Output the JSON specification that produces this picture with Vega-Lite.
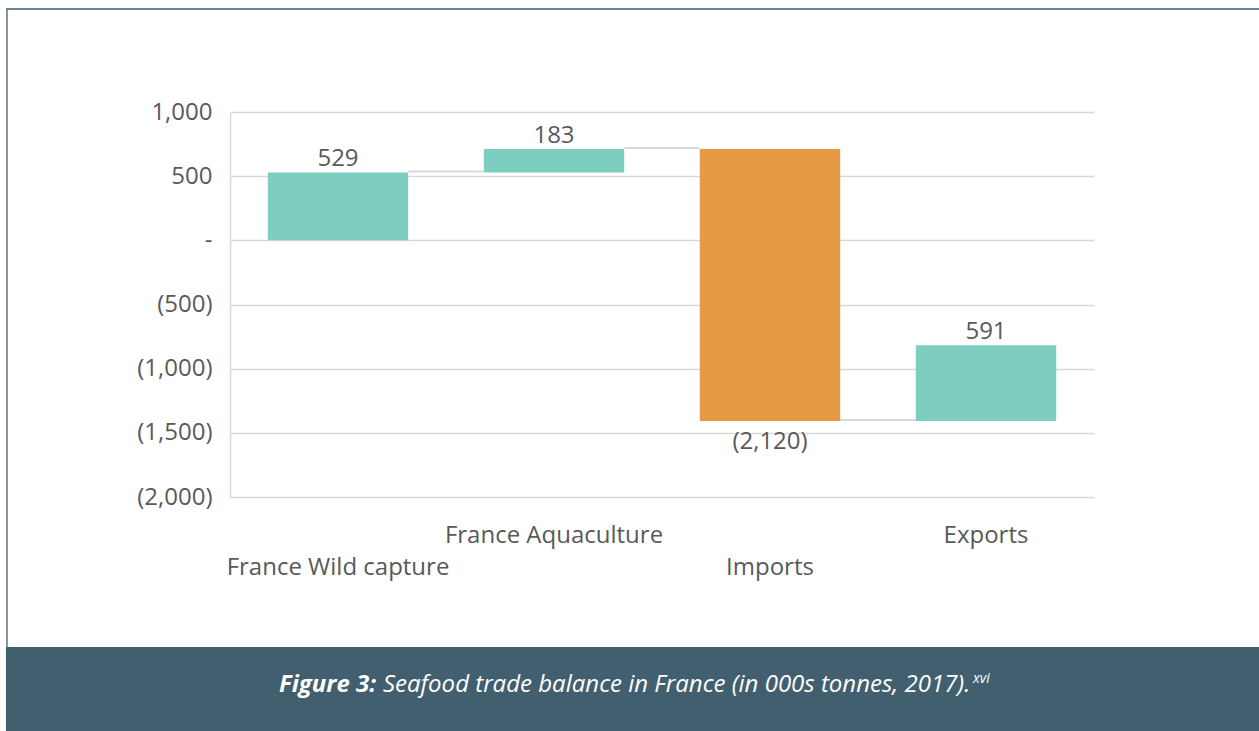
{
  "$schema": "https://vega.github.io/schema/vega-lite/v6.json",
  "padding": {"left": 6, "top": 8, "right": 0, "bottom": 0},
  "background": "white",
  "columns": 3,
  "spacing": 0,
  "bounds": "flush",
  "config": {
    "view": {"stroke": null},
    "font": "Open Sans"
  },
  "concat": [
    {"width": 2, "height": 2, "data": {"values": [{}]}, "mark": {"type": "text", "text": "", "fontSize": 0}, "view": {"fill": "#6f8391"}},
    {"width": 222, "height": 2, "data": {"values": [{}]}, "mark": {"type": "text", "text": "", "fontSize": 0}, "view": {"fill": "#6f8391"}},
    {"width": 1029, "height": 2, "data": {"values": [{}]}, "mark": {"type": "text", "text": "", "fontSize": 0}, "view": {"fill": "#6f8391"}},

    {"width": 2, "height": 102, "data": {"values": [{}]}, "mark": {"type": "text", "text": "", "fontSize": 0}, "view": {"fill": "#8797a2"}},
    {"width": 222, "height": 102, "data": {"values": [{}]}, "mark": {"type": "text", "text": "", "fontSize": 0}},
    {"width": 1029, "height": 102, "data": {"values": [{}]}, "mark": {"type": "text", "text": "", "fontSize": 0}},

    {"width": 2, "height": 385, "data": {"values": [{}]}, "mark": {"type": "text", "text": "", "fontSize": 0}, "view": {"fill": "#8797a2"}},
    {"width": 222, "height": 385, "data": {"values": [{}]}, "mark": {"type": "text", "text": "", "fontSize": 0}},
    {
      "width": 864,
      "height": 385,
      "data": {"values": [
        {"cat": "France Wild capture", "start": 0, "end": 529, "label": "529", "kind": "inc", "next": "France Aquaculture"},
        {"cat": "France Aquaculture", "start": 529, "end": 712, "label": "183", "kind": "inc", "next": "Imports"},
        {"cat": "Imports", "start": 712, "end": -1408, "label": "(2,120)", "kind": "dec", "next": "Exports"},
        {"cat": "Exports", "start": -1408, "end": -817, "label": "591", "kind": "inc", "next": null}
      ]},
      "encoding": {
        "x": {
          "field": "cat", "type": "nominal", "sort": null, "title": null,
          "scale": {"paddingInner": 0.35, "paddingOuter": 0.175},
          "axis": {
            "domain": false, "ticks": false, "labelAngle": 0, "labelLimit": 0,
            "labelFont": "Open Sans", "labelFontSize": 24, "labelColor": "#595959",
            "labelPadding": 26, "labelBaseline": "top", "labelLineHeight": 32,
            "labelExpr": "(datum.value == 'France Wild capture' || datum.value == 'Imports') ? ['', datum.label] : datum.label"
          }
        }
      },
      "layer": [
        {
          "transform": [{"filter": "datum.next != null"}],
          "mark": {"type": "rule", "color": "#d9d9d9", "strokeWidth": 2, "yOffset": -1},
          "encoding": {
            "x": {"field": "cat", "type": "nominal", "bandPosition": 1},
            "x2": {"field": "next", "bandPosition": 0},
            "y": {"field": "end", "type": "quantitative"}
          }
        },
        {
          "mark": {"type": "bar"},
          "encoding": {
            "y": {
              "field": "start", "type": "quantitative", "title": null,
              "scale": {"domain": [-2000, 1000], "nice": false, "zero": false},
              "axis": {
                "values": [-2000, -1500, -1000, -500, 0, 500, 1000],
                "ticks": false, "domainColor": "#d9d9d9", "domainWidth": 1.5,
                "gridColor": "#d9d9d9", "gridWidth": 1.5,
                "labelFont": "Open Sans", "labelFontSize": 24, "labelColor": "#595959",
                "labelPadding": 18,
                "labelExpr": "datum.value == 0 ? '-' : (datum.value < 0 ? '(' + format(-datum.value, ',') + ')' : format(datum.value, ','))"
              }
            },
            "y2": {"field": "end"},
            "color": {
              "field": "kind", "type": "nominal", "legend": null,
              "scale": {"domain": ["inc", "dec"], "range": ["#7ecdc1", "#e69b42"]}
            }
          }
        },
        {
          "transform": [{"filter": "datum.kind == 'inc'"}],
          "mark": {"type": "text", "font": "Open Sans", "fontSize": 24, "color": "#595959", "baseline": "alphabetic", "dy": -6},
          "encoding": {
            "y": {"field": "end", "type": "quantitative"},
            "text": {"field": "label"}
          }
        },
        {
          "transform": [{"filter": "datum.kind == 'dec'"}],
          "mark": {"type": "text", "font": "Open Sans", "fontSize": 24, "color": "#595959", "baseline": "alphabetic", "dy": 28},
          "encoding": {
            "y": {"field": "end", "type": "quantitative"},
            "text": {"field": "label"}
          }
        }
      ]
    },

    {"width": 2, "height": 150, "data": {"values": [{}]}, "mark": {"type": "text", "text": "", "fontSize": 0}, "view": {"fill": "#8797a2"}},
    {"width": 222, "height": 150, "data": {"values": [{}]}, "mark": {"type": "text", "text": "", "fontSize": 0}},
    {"width": 1029, "height": 150, "data": {"values": [{}]}, "mark": {"type": "text", "text": "", "fontSize": 0}},

    {"width": 2, "height": 84, "data": {"values": [{}]}, "mark": {"type": "text", "text": "", "fontSize": 0}, "view": {"fill": "#425f70"}},
    {"width": 222, "height": 84, "data": {"values": [{}]}, "mark": {"type": "text", "text": "", "fontSize": 0}, "view": {"fill": "#425f70"}},
    {
      "width": 1029, "height": 84,
      "view": {"fill": "#425f70"},
      "data": {"values": [{"a": "Figure 3:", "b": "Seafood trade balance in France (in 000s tonnes, 2017).", "c": "xvi"}]},
      "layer": [
        {"mark": {"type": "text", "font": "Open Sans", "fontSize": 24, "fontWeight": "bold", "fontStyle": "italic", "color": "white", "align": "left", "baseline": "alphabetic", "dx": -465.5, "dy": 3},
         "encoding": {"text": {"field": "a"}}},
        {"mark": {"type": "text", "font": "Open Sans", "fontSize": 24, "fontStyle": "italic", "color": "white", "align": "left", "baseline": "alphabetic", "dx": -361.5, "dy": 3},
         "encoding": {"text": {"field": "b"}}},
        {"mark": {"type": "text", "font": "Open Sans", "fontSize": 14, "fontStyle": "italic", "color": "white", "align": "left", "baseline": "alphabetic", "dx": 228.5, "dy": -6},
         "encoding": {"text": {"field": "c"}}}
      ]
    }
  ]
}
